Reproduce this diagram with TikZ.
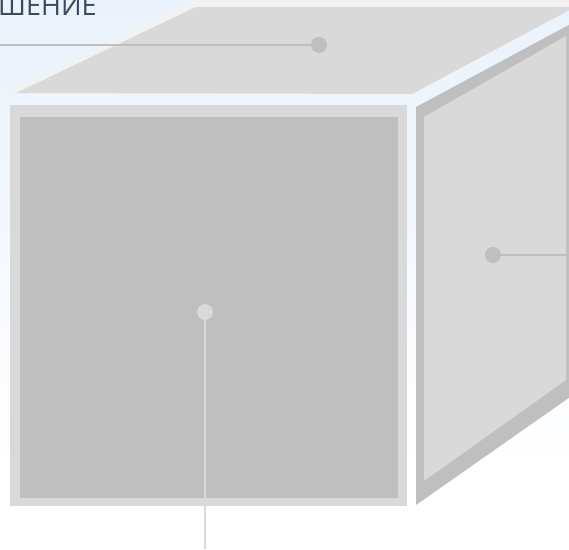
\documentclass[tikz,border=0pt]{standalone}
\usepackage{fontspec}
\newfontfamily\headfont{Open Sans}
\usepackage{xcolor}
\usepackage{tikz}
\usetikzlibrary{positioning,calc}

\definecolor{skyback}{HTML}{EAF2FB}
\definecolor{facelight}{HTML}{D9D9D9}
\definecolor{facedark}{HTML}{BFBFBF}
\definecolor{facerim}{HTML}{F2F2F2}
\definecolor{headink}{HTML}{3B4A5E}

\begin{document}
\begin{tikzpicture}[x=1pt,y=-1pt,
    knob/.style={circle,inner sep=0pt,minimum size=16pt},
    lead/.style={line width=2.5pt}]
  \useasboundingbox (0,0) rectangle (569,549);
  \clip (0,0) rectangle (569,549);
  \fill[white] (0,0) rectangle (569,549);
  \shade[top color=skyback,bottom color=white] (0,0) rectangle (569,470);

  \node[anchor=base west,inner sep=0pt,text=headink,
        font=\headfont\fontsize{27}{27}\selectfont] (head) at (-2,15) {ШЕНИЕ};

  % top face
  \fill[facerim] (6,93) -- (194,0) -- (585,0) -- (412,94) -- cycle;
  \fill[facelight] (16,93) -- (196,7) -- (575,7) -- (412,94) -- cycle;
  % right face
  \fill[facedark] (416,107) -- (580,19) -- (580,390) -- (416,505) -- cycle;
  \fill[facelight] (424,117) -- (566,36) -- (566,380) -- (424,481) -- cycle;
  % front face
  \fill[facelight] (10,105) rectangle (407,506);
  \fill[facedark] (20,117) rectangle (398,498);

  \node[knob,fill=facedark] (dtop) at (319,45) {};
  \node[knob,fill=facedark] (dright) at (493,255) {};
  \node[knob,fill=facelight] (dfront) at (205,312) {};

  \coordinate (ltop) at (0,45);
  \coordinate (lright) at (569,255);
  \coordinate (lfront) at (205,549);

  \draw[lead,facedark] (ltop) -- (dtop);
  \draw[lead,facedark] (dright) -- (lright);
  \draw[lead,facelight,line width=2pt] (dfront) -- (lfront);
\end{tikzpicture}
\end{document}
